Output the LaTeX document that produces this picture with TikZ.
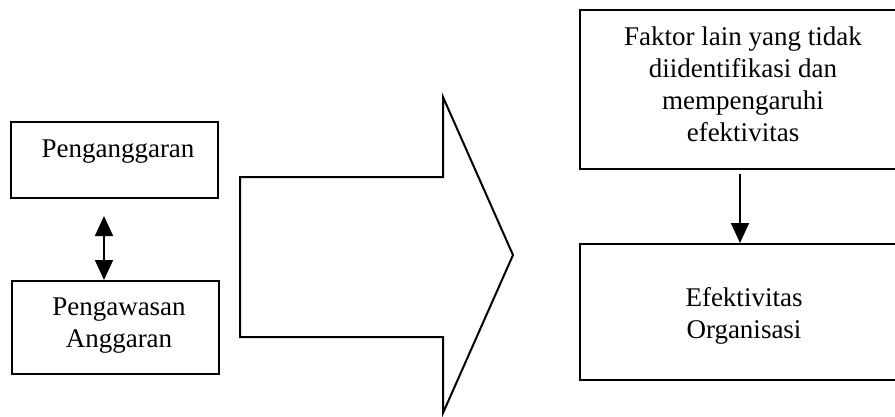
\documentclass[tikz,border=0pt]{standalone}
\usepackage{fontspec}
\setmainfont{Liberation Serif}
\usetikzlibrary{arrows.meta,calc}
\begin{document}
\begin{tikzpicture}[x=1pt,y=-1pt,
  box/.style={draw=black,line width=2pt,inner sep=0pt},
  txt/.style={align=center,inner sep=0pt,font=\fontsize{27}{32}\selectfont},
  conn/.style={line width=1.8pt,-{Triangle[width=18pt,length=20pt]}},
  dconn/.style={line width=1.8pt,{Triangle[width=18pt,length=20pt]}-{Triangle[width=18pt,length=20pt]}},
  bigarrow/.style={draw=black,line width=2pt,line join=miter}]
\useasboundingbox (0,0) rectangle (895,416);
\clip (0,0) rectangle (895,416);
% left boxes
\node[box,minimum width=207pt,minimum height=76pt] (pang) at (114.5,160) {};
\node[txt] (tpang) at (118,152) {Penganggaran};
\node[box,minimum width=207pt,minimum height=93pt] (pengaw) at (115.5,327.5) {};
\node[txt] (tpengaw) at (119,326) {Pengawasan\\Anggaran};
\draw[dconn] ([xshift=-10.5pt,yshift=-17pt]pang.south) -- ([xshift=-11.5pt]pengaw.north);
% big arrow
\coordinate (b1) at (240,177);
\coordinate (b2) at (443,177);
\coordinate (b3) at (443,97);
\coordinate (b4) at (513,255);
\coordinate (b5) at (443,413);
\coordinate (b6) at (443,337);
\coordinate (b7) at (240,337);
\draw[bigarrow] (b1) -- (b2) -- (b3) -- (b4) -- (b5) -- (b6) -- (b7) -- cycle;
% right boxes
\node[box,minimum width=330pt,minimum height=159pt] (faktor) at (745,89.5) {};
\node[txt] (tfaktor) at (743,84) {Faktor lain yang tidak\\diidentifikasi dan\\mempengaruhi\\efektivitas};
\node[box,minimum width=330pt,minimum height=136pt] (efek) at (745,312) {};
\node[txt] (tefek) at (744,316) {Efektivitas\\Organisasi};
\draw[conn] ([xshift=-5pt,yshift=-4pt]faktor.south) -- ([xshift=-5pt]efek.north);
\end{tikzpicture}
\end{document}
